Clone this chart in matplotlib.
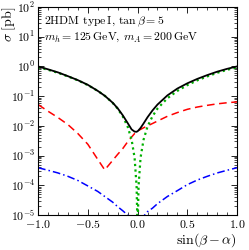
import matplotlib
matplotlib.use("Agg")
import matplotlib.pyplot as plt
from matplotlib.ticker import MultipleLocator, LogLocator, NullFormatter

plt.rcParams['font.family'] = 'serif'
plt.rcParams['font.serif'] = ['cmr10']
plt.rcParams['mathtext.fontset'] = 'cm'
plt.rcParams['axes.formatter.use_mathtext'] = True

# sin(beta - alpha)
sba = [-1.0, -0.9, -0.8, -0.7, -0.6, -0.5, -0.4, -0.33, -0.25, -0.2, -0.15, -0.1,
       -0.06, -0.03, -0.01, -0.003, 0.0, 0.003, 0.01, 0.03, 0.06, 0.1, 0.15, 0.2,
       0.3, 0.4, 0.5, 0.6, 0.7, 0.8, 0.9, 1.0]

# cross sections [pb]
sig_total = [1.0, 0.80, 0.63, 0.47, 0.345, 0.24, 0.15, 0.103, 0.06, 0.039, 0.023, 0.0125,
             0.0076, 0.0064, 0.0063, 0.0065, 0.0066, 0.0067, 0.0071, 0.0085, 0.012, 0.0195, 0.033, 0.052,
             0.106, 0.18, 0.27, 0.38, 0.51, 0.665, 0.83, 1.0]
sig_green = [0.95, 0.77, 0.61, 0.46, 0.34, 0.235, 0.15, 0.103, 0.059, 0.038, 0.021, 0.0095,
             0.0034, 8.5e-4, 9.5e-5, 8.5e-6, 1e-7, 8.5e-6, 9.5e-5, 8.5e-4, 3.4e-3, 9.5e-3, 0.021, 0.038,
             0.085, 0.15, 0.235, 0.34, 0.46, 0.61, 0.77, 0.93]
sig_red = [0.052, 0.031, 0.019, 0.011, 5.5e-3, 2.4e-3, 7.4e-4, 3.3e-4, 6.9e-4, 1.1e-3, 1.7e-3, 2.9e-3,
           4.2e-3, 5.5e-3, 6.2e-3, 6.5e-3, 6.6e-3, 6.7e-3, 7.0e-3, 7.6e-3, 8.6e-3, 0.010, 0.012, 0.0145,
           0.021, 0.028, 0.036, 0.043, 0.049, 0.055, 0.060, 0.064]
sig_blue = [3.9e-4, 3.2e-4, 2.6e-4, 2.0e-4, 1.45e-4, 9.5e-5, 6.2e-5, 4.2e-5, 2.7e-5, 1.9e-5, 1.4e-5, 1.0e-5,
            7e-6, 4e-6, 2e-6, 1e-6, 5e-7, 1e-6, 2.5e-6, 6e-6, 9e-6, 1.3e-5, 1.7e-5, 2.4e-5,
            4.2e-5, 6.6e-5, 1.05e-4, 1.5e-4, 2.0e-4, 2.6e-4, 3.2e-4, 3.9e-4]

fig = plt.figure(figsize=(2.49, 2.5), dpi=100)
ax = fig.add_axes([0.153, 0.14, 0.799, 0.832])

ax.plot(sba, sig_red, color='#ff0000', lw=1.1, ls=(0, (5, 3)))
ax.plot(sba, sig_blue, color='#0000ff', lw=1.1, ls=(0, (5, 2, 1, 2)))
ax.plot(sba, sig_green, color='#00b000', lw=1.6, ls=(0, (1, 1.5)))
ax.plot(sba, sig_total, color='black', lw=1.3)

ax.set_yscale('log')
ax.set_xlim(-1, 1)
ax.set_ylim(1e-5, 1e2)
ax.xaxis.set_major_locator(MultipleLocator(0.5))
ax.xaxis.set_minor_locator(MultipleLocator(0.1))
ax.yaxis.set_major_locator(LogLocator(base=10, numticks=10))
ax.yaxis.set_minor_locator(LogLocator(base=10, subs=range(2, 10), numticks=20))
ax.yaxis.set_minor_formatter(NullFormatter())
ax.tick_params(which='both', direction='in', top=True, right=True, labelsize=8.5)
ax.tick_params(axis='x', pad=2)
ax.tick_params(axis='y', pad=2)
ax.tick_params(which='major', length=4, width=0.6)
ax.tick_params(which='minor', length=2, width=0.5)
for sp in ax.spines.values():
    sp.set_linewidth(0.8)

fig.text(0.952, 0.003, r'$\sin(\beta-\alpha)$', fontsize=10, ha='right', va='bottom')
fig.text(0.036, 0.972, r'$\sigma\ [\mathrm{pb}]$', fontsize=10, ha='center', va='top', rotation=90)

ax.text(0.03, 0.965, r'2HDM type$\,$I, $\tan\beta=5$', transform=ax.transAxes,
        fontsize=8.5, va='top', ha='left')
ax.text(0.03, 0.885, r'$m_h=125\,\mathrm{GeV}$, $m_A=200\,\mathrm{GeV}$', transform=ax.transAxes,
        fontsize=8.5, va='top', ha='left')

fig.savefig('out.png', dpi=100)
